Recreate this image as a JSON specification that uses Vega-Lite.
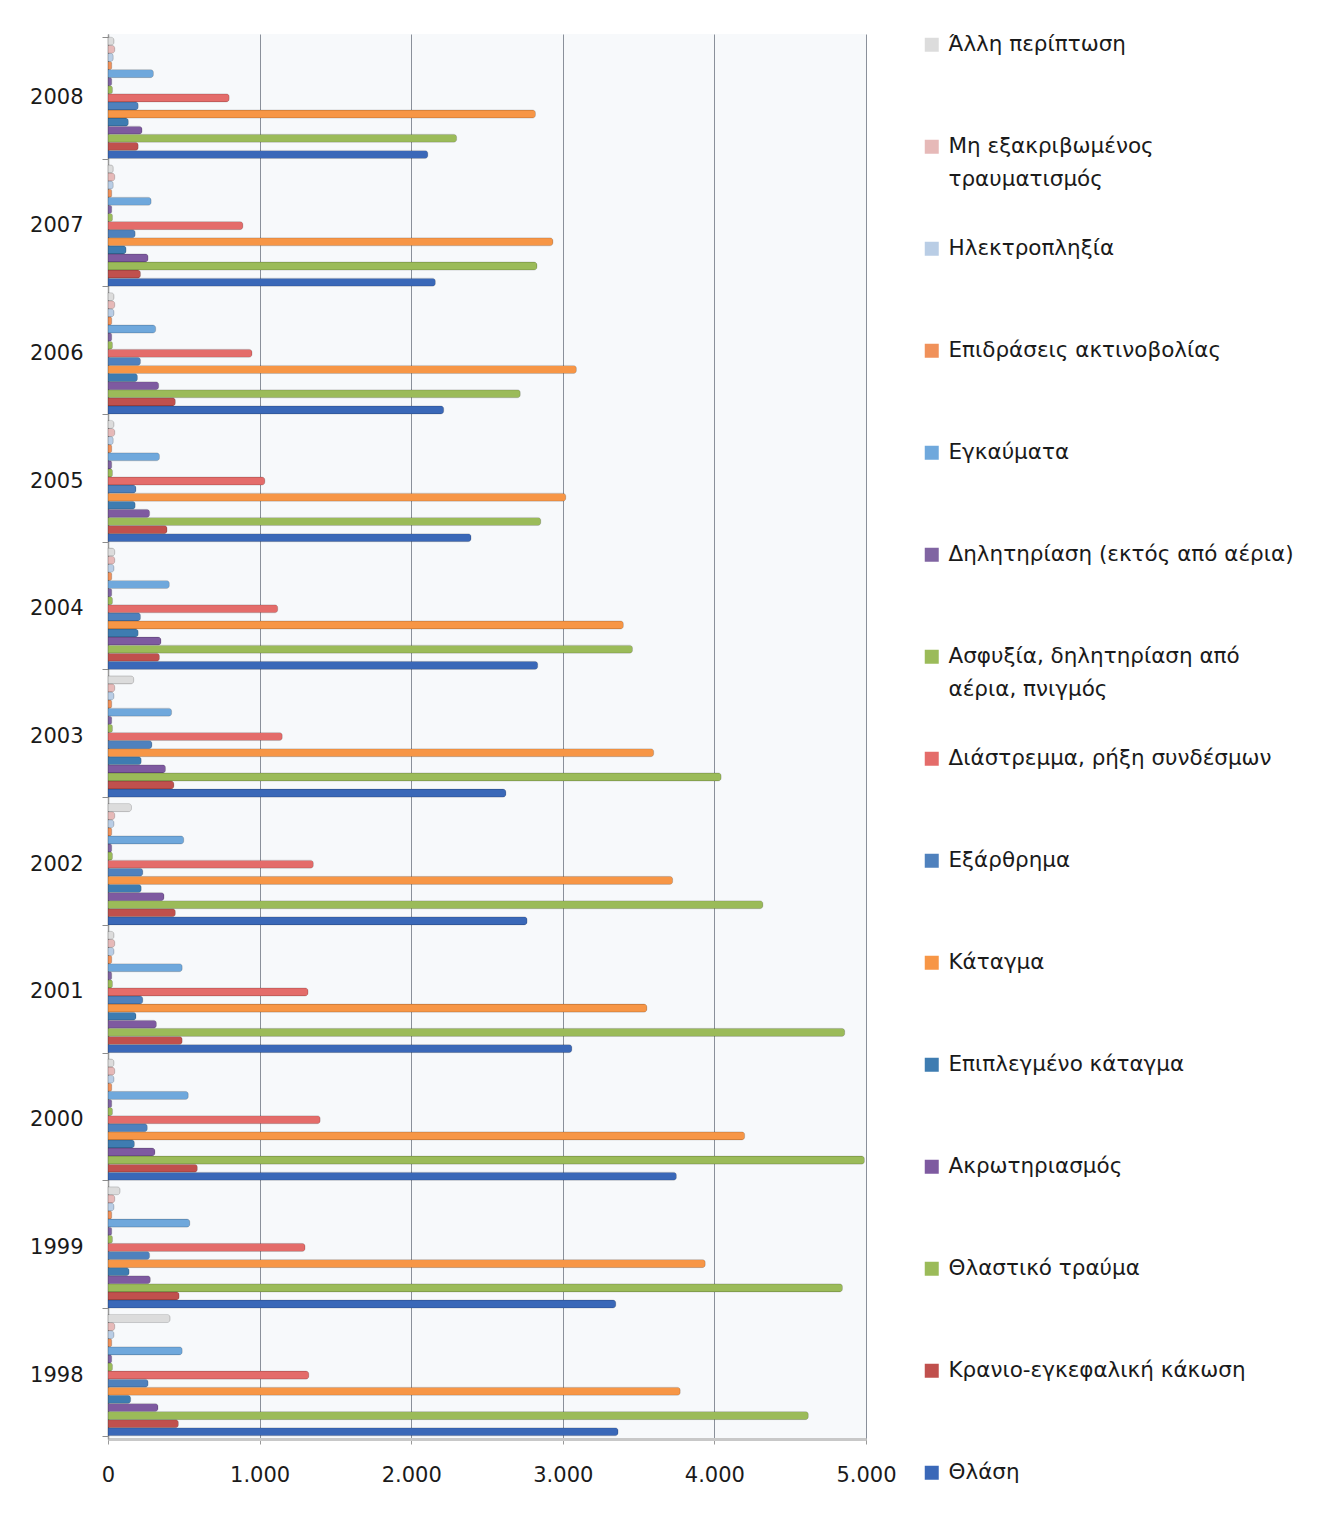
{
  "$schema": "https://vega.github.io/schema/vega-lite/v6.json",
  "autosize": {"type": "none"},
  "padding": {"left": 108, "top": 34, "right": 457, "bottom": 98},
  "width": 758,
  "height": 1405,
  "background": "#ffffff",
  "data": {
    "values": [
      {"year": "2008", "type": "Άλλη περίπτωση", "value": 40},
      {"year": "2008", "type": "Μη εξακριβωμένος τραυματισμός", "value": 45},
      {"year": "2008", "type": "Ηλεκτροπληξία", "value": 35},
      {"year": "2008", "type": "Επιδράσεις ακτινοβολίας", "value": 25},
      {"year": "2008", "type": "Εγκαύματα", "value": 300},
      {"year": "2008", "type": "Δηλητηρίαση (εκτός από αέρια)", "value": 25},
      {"year": "2008", "type": "Ασφυξία, δηλητηρίαση από αέρια, πνιγμός", "value": 30},
      {"year": "2008", "type": "Διάστρεμμα, ρήξη συνδέσμων", "value": 800},
      {"year": "2008", "type": "Εξάρθρημα", "value": 200},
      {"year": "2008", "type": "Κάταγμα", "value": 2820},
      {"year": "2008", "type": "Επιπλεγμένο κάταγμα", "value": 135},
      {"year": "2008", "type": "Ακρωτηριασμός", "value": 225},
      {"year": "2008", "type": "Θλαστικό τραύμα", "value": 2300},
      {"year": "2008", "type": "Κρανιο-εγκεφαλική κάκωση", "value": 200},
      {"year": "2008", "type": "Θλάση", "value": 2110},

      {"year": "2007", "type": "Άλλη περίπτωση", "value": 35},
      {"year": "2007", "type": "Μη εξακριβωμένος τραυματισμός", "value": 45},
      {"year": "2007", "type": "Ηλεκτροπληξία", "value": 35},
      {"year": "2007", "type": "Επιδράσεις ακτινοβολίας", "value": 25},
      {"year": "2007", "type": "Εγκαύματα", "value": 285},
      {"year": "2007", "type": "Δηλητηρίαση (εκτός από αέρια)", "value": 25},
      {"year": "2007", "type": "Ασφυξία, δηλητηρίαση από αέρια, πνιγμός", "value": 30},
      {"year": "2007", "type": "Διάστρεμμα, ρήξη συνδέσμων", "value": 890},
      {"year": "2007", "type": "Εξάρθρημα", "value": 180},
      {"year": "2007", "type": "Κάταγμα", "value": 2935},
      {"year": "2007", "type": "Επιπλεγμένο κάταγμα", "value": 120},
      {"year": "2007", "type": "Ακρωτηριασμός", "value": 265},
      {"year": "2007", "type": "Θλαστικό τραύμα", "value": 2830},
      {"year": "2007", "type": "Κρανιο-εγκεφαλική κάκωση", "value": 215},
      {"year": "2007", "type": "Θλάση", "value": 2160},

      {"year": "2006", "type": "Άλλη περίπτωση", "value": 40},
      {"year": "2006", "type": "Μη εξακριβωμένος τραυματισμός", "value": 45},
      {"year": "2006", "type": "Ηλεκτροπληξία", "value": 40},
      {"year": "2006", "type": "Επιδράσεις ακτινοβολίας", "value": 25},
      {"year": "2006", "type": "Εγκαύματα", "value": 315},
      {"year": "2006", "type": "Δηλητηρίαση (εκτός από αέρια)", "value": 25},
      {"year": "2006", "type": "Ασφυξία, δηλητηρίαση από αέρια, πνιγμός", "value": 30},
      {"year": "2006", "type": "Διάστρεμμα, ρήξη συνδέσμων", "value": 950},
      {"year": "2006", "type": "Εξάρθρημα", "value": 215},
      {"year": "2006", "type": "Κάταγμα", "value": 3090},
      {"year": "2006", "type": "Επιπλεγμένο κάταγμα", "value": 195},
      {"year": "2006", "type": "Ακρωτηριασμός", "value": 335},
      {"year": "2006", "type": "Θλαστικό τραύμα", "value": 2720},
      {"year": "2006", "type": "Κρανιο-εγκεφαλική κάκωση", "value": 445},
      {"year": "2006", "type": "Θλάση", "value": 2215},

      {"year": "2005", "type": "Άλλη περίπτωση", "value": 40},
      {"year": "2005", "type": "Μη εξακριβωμένος τραυματισμός", "value": 45},
      {"year": "2005", "type": "Ηλεκτροπληξία", "value": 35},
      {"year": "2005", "type": "Επιδράσεις ακτινοβολίας", "value": 25},
      {"year": "2005", "type": "Εγκαύματα", "value": 340},
      {"year": "2005", "type": "Δηλητηρίαση (εκτός από αέρια)", "value": 25},
      {"year": "2005", "type": "Ασφυξία, δηλητηρίαση από αέρια, πνιγμός", "value": 30},
      {"year": "2005", "type": "Διάστρεμμα, ρήξη συνδέσμων", "value": 1035},
      {"year": "2005", "type": "Εξάρθρημα", "value": 185},
      {"year": "2005", "type": "Κάταγμα", "value": 3020},
      {"year": "2005", "type": "Επιπλεγμένο κάταγμα", "value": 180},
      {"year": "2005", "type": "Ακρωτηριασμός", "value": 275},
      {"year": "2005", "type": "Θλαστικό τραύμα", "value": 2855},
      {"year": "2005", "type": "Κρανιο-εγκεφαλική κάκωση", "value": 390},
      {"year": "2005", "type": "Θλάση", "value": 2395},

      {"year": "2004", "type": "Άλλη περίπτωση", "value": 45},
      {"year": "2004", "type": "Μη εξακριβωμένος τραυματισμός", "value": 45},
      {"year": "2004", "type": "Ηλεκτροπληξία", "value": 40},
      {"year": "2004", "type": "Επιδράσεις ακτινοβολίας", "value": 25},
      {"year": "2004", "type": "Εγκαύματα", "value": 405},
      {"year": "2004", "type": "Δηλητηρίαση (εκτός από αέρια)", "value": 25},
      {"year": "2004", "type": "Ασφυξία, δηλητηρίαση από αέρια, πνιγμός", "value": 30},
      {"year": "2004", "type": "Διάστρεμμα, ρήξη συνδέσμων", "value": 1120},
      {"year": "2004", "type": "Εξάρθρημα", "value": 215},
      {"year": "2004", "type": "Κάταγμα", "value": 3400},
      {"year": "2004", "type": "Επιπλεγμένο κάταγμα", "value": 200},
      {"year": "2004", "type": "Ακρωτηριασμός", "value": 350},
      {"year": "2004", "type": "Θλαστικό τραύμα", "value": 3460},
      {"year": "2004", "type": "Κρανιο-εγκεφαλική κάκωση", "value": 340},
      {"year": "2004", "type": "Θλάση", "value": 2835},

      {"year": "2003", "type": "Άλλη περίπτωση", "value": 170},
      {"year": "2003", "type": "Μη εξακριβωμένος τραυματισμός", "value": 45},
      {"year": "2003", "type": "Ηλεκτροπληξία", "value": 40},
      {"year": "2003", "type": "Επιδράσεις ακτινοβολίας", "value": 25},
      {"year": "2003", "type": "Εγκαύματα", "value": 420},
      {"year": "2003", "type": "Δηλητηρίαση (εκτός από αέρια)", "value": 25},
      {"year": "2003", "type": "Ασφυξία, δηλητηρίαση από αέρια, πνιγμός", "value": 30},
      {"year": "2003", "type": "Διάστρεμμα, ρήξη συνδέσμων", "value": 1150},
      {"year": "2003", "type": "Εξάρθρημα", "value": 290},
      {"year": "2003", "type": "Κάταγμα", "value": 3600},
      {"year": "2003", "type": "Επιπλεγμένο κάταγμα", "value": 220},
      {"year": "2003", "type": "Ακρωτηριασμός", "value": 380},
      {"year": "2003", "type": "Θλαστικό τραύμα", "value": 4045},
      {"year": "2003", "type": "Κρανιο-εγκεφαλική κάκωση", "value": 435},
      {"year": "2003", "type": "Θλάση", "value": 2625},

      {"year": "2002", "type": "Άλλη περίπτωση", "value": 155},
      {"year": "2002", "type": "Μη εξακριβωμένος τραυματισμός", "value": 45},
      {"year": "2002", "type": "Ηλεκτροπληξία", "value": 40},
      {"year": "2002", "type": "Επιδράσεις ακτινοβολίας", "value": 25},
      {"year": "2002", "type": "Εγκαύματα", "value": 500},
      {"year": "2002", "type": "Δηλητηρίαση (εκτός από αέρια)", "value": 25},
      {"year": "2002", "type": "Ασφυξία, δηλητηρίαση από αέρια, πνιγμός", "value": 30},
      {"year": "2002", "type": "Διάστρεμμα, ρήξη συνδέσμων", "value": 1355},
      {"year": "2002", "type": "Εξάρθρημα", "value": 230},
      {"year": "2002", "type": "Κάταγμα", "value": 3725},
      {"year": "2002", "type": "Επιπλεγμένο κάταγμα", "value": 220},
      {"year": "2002", "type": "Ακρωτηριασμός", "value": 370},
      {"year": "2002", "type": "Θλαστικό τραύμα", "value": 4320},
      {"year": "2002", "type": "Κρανιο-εγκεφαλική κάκωση", "value": 445},
      {"year": "2002", "type": "Θλάση", "value": 2765},

      {"year": "2001", "type": "Άλλη περίπτωση", "value": 40},
      {"year": "2001", "type": "Μη εξακριβωμένος τραυματισμός", "value": 45},
      {"year": "2001", "type": "Ηλεκτροπληξία", "value": 40},
      {"year": "2001", "type": "Επιδράσεις ακτινοβολίας", "value": 25},
      {"year": "2001", "type": "Εγκαύματα", "value": 490},
      {"year": "2001", "type": "Δηλητηρίαση (εκτός από αέρια)", "value": 25},
      {"year": "2001", "type": "Ασφυξία, δηλητηρίαση από αέρια, πνιγμός", "value": 30},
      {"year": "2001", "type": "Διάστρεμμα, ρήξη συνδέσμων", "value": 1320},
      {"year": "2001", "type": "Εξάρθρημα", "value": 230},
      {"year": "2001", "type": "Κάταγμα", "value": 3555},
      {"year": "2001", "type": "Επιπλεγμένο κάταγμα", "value": 185},
      {"year": "2001", "type": "Ακρωτηριασμός", "value": 320},
      {"year": "2001", "type": "Θλαστικό τραύμα", "value": 4860},
      {"year": "2001", "type": "Κρανιο-εγκεφαλική κάκωση", "value": 490},
      {"year": "2001", "type": "Θλάση", "value": 3060},

      {"year": "2000", "type": "Άλλη περίπτωση", "value": 40},
      {"year": "2000", "type": "Μη εξακριβωμένος τραυματισμός", "value": 45},
      {"year": "2000", "type": "Ηλεκτροπληξία", "value": 40},
      {"year": "2000", "type": "Επιδράσεις ακτινοβολίας", "value": 25},
      {"year": "2000", "type": "Εγκαύματα", "value": 530},
      {"year": "2000", "type": "Δηλητηρίαση (εκτός από αέρια)", "value": 25},
      {"year": "2000", "type": "Ασφυξία, δηλητηρίαση από αέρια, πνιγμός", "value": 30},
      {"year": "2000", "type": "Διάστρεμμα, ρήξη συνδέσμων", "value": 1400},
      {"year": "2000", "type": "Εξάρθρημα", "value": 260},
      {"year": "2000", "type": "Κάταγμα", "value": 4200},
      {"year": "2000", "type": "Επιπλεγμένο κάταγμα", "value": 175},
      {"year": "2000", "type": "Ακρωτηριασμός", "value": 310},
      {"year": "2000", "type": "Θλαστικό τραύμα", "value": 4990},
      {"year": "2000", "type": "Κρανιο-εγκεφαλική κάκωση", "value": 590},
      {"year": "2000", "type": "Θλάση", "value": 3750},

      {"year": "1999", "type": "Άλλη περίπτωση", "value": 80},
      {"year": "1999", "type": "Μη εξακριβωμένος τραυματισμός", "value": 45},
      {"year": "1999", "type": "Ηλεκτροπληξία", "value": 40},
      {"year": "1999", "type": "Επιδράσεις ακτινοβολίας", "value": 25},
      {"year": "1999", "type": "Εγκαύματα", "value": 540},
      {"year": "1999", "type": "Δηλητηρίαση (εκτός από αέρια)", "value": 25},
      {"year": "1999", "type": "Ασφυξία, δηλητηρίαση από αέρια, πνιγμός", "value": 30},
      {"year": "1999", "type": "Διάστρεμμα, ρήξη συνδέσμων", "value": 1300},
      {"year": "1999", "type": "Εξάρθρημα", "value": 275},
      {"year": "1999", "type": "Κάταγμα", "value": 3940},
      {"year": "1999", "type": "Επιπλεγμένο κάταγμα", "value": 140},
      {"year": "1999", "type": "Ακρωτηριασμός", "value": 280},
      {"year": "1999", "type": "Θλαστικό τραύμα", "value": 4845},
      {"year": "1999", "type": "Κρανιο-εγκεφαλική κάκωση", "value": 470},
      {"year": "1999", "type": "Θλάση", "value": 3350},

      {"year": "1998", "type": "Άλλη περίπτωση", "value": 410},
      {"year": "1998", "type": "Μη εξακριβωμένος τραυματισμός", "value": 45},
      {"year": "1998", "type": "Ηλεκτροπληξία", "value": 40},
      {"year": "1998", "type": "Επιδράσεις ακτινοβολίας", "value": 25},
      {"year": "1998", "type": "Εγκαύματα", "value": 490},
      {"year": "1998", "type": "Δηλητηρίαση (εκτός από αέρια)", "value": 25},
      {"year": "1998", "type": "Ασφυξία, δηλητηρίαση από αέρια, πνιγμός", "value": 30},
      {"year": "1998", "type": "Διάστρεμμα, ρήξη συνδέσμων", "value": 1325},
      {"year": "1998", "type": "Εξάρθρημα", "value": 265},
      {"year": "1998", "type": "Κάταγμα", "value": 3775},
      {"year": "1998", "type": "Επιπλεγμένο κάταγμα", "value": 150},
      {"year": "1998", "type": "Ακρωτηριασμός", "value": 330},
      {"year": "1998", "type": "Θλαστικό τραύμα", "value": 4620},
      {"year": "1998", "type": "Κρανιο-εγκεφαλική κάκωση", "value": 465},
      {"year": "1998", "type": "Θλάση", "value": 3365}
    ]
  },
  "mark": {"type": "bar", "cornerRadiusEnd": 3, "stroke": "#000000", "strokeOpacity": 0.22, "strokeWidth": 0.6},
  "encoding": {
    "y": {
      "field": "year",
      "type": "ordinal",
      "sort": "descending",
      "title": null,
      "scale": {"paddingInner": 0.05, "paddingOuter": 0.025},
      "axis": {
        "labelFont": "DejaVu Sans",
        "labelFontSize": 21,
        "labelColor": "#1a1a1a",
        "labelPadding": 19,
        "tickBand": "extent",
        "tickSize": 6,
        "tickColor": "#8c8c8c",
        "domainColor": "#9a9a9a",
        "domainWidth": 1.5
      }
    },
    "yOffset": {
      "field": "type",
      "type": "nominal",
      "scale": {
        "domain": [
          "Άλλη περίπτωση",
          "Μη εξακριβωμένος τραυματισμός",
          "Ηλεκτροπληξία",
          "Επιδράσεις ακτινοβολίας",
          "Εγκαύματα",
          "Δηλητηρίαση (εκτός από αέρια)",
          "Ασφυξία, δηλητηρίαση από αέρια, πνιγμός",
          "Διάστρεμμα, ρήξη συνδέσμων",
          "Εξάρθρημα",
          "Κάταγμα",
          "Επιπλεγμένο κάταγμα",
          "Ακρωτηριασμός",
          "Θλαστικό τραύμα",
          "Κρανιο-εγκεφαλική κάκωση",
          "Θλάση"
        ],
        "paddingInner": 0
      }
    },
    "x": {
      "field": "value",
      "type": "quantitative",
      "title": null,
      "scale": {"domain": [0, 5000], "nice": false},
      "axis": {
        "values": [0, 1000, 2000, 3000, 4000, 5000],
        "labelExpr": "replace(format(datum.value, ','), ',', '.')",
        "labelFont": "DejaVu Sans",
        "labelFontSize": 21,
        "labelColor": "#1a1a1a",
        "labelPadding": 20,
        "tickSize": 5,
        "tickColor": "#9a9a9a",
        "domainColor": "#c8c8c8",
        "domainWidth": 3,
        "grid": true,
        "gridColor": "#8a909a",
        "gridWidth": 1,
        "labelFlush": false
      }
    },
    "color": {
      "field": "type",
      "type": "nominal",
      "scale": {
        "domain": [
          "Άλλη περίπτωση",
          "Μη εξακριβωμένος τραυματισμός",
          "Ηλεκτροπληξία",
          "Επιδράσεις ακτινοβολίας",
          "Εγκαύματα",
          "Δηλητηρίαση (εκτός από αέρια)",
          "Ασφυξία, δηλητηρίαση από αέρια, πνιγμός",
          "Διάστρεμμα, ρήξη συνδέσμων",
          "Εξάρθρημα",
          "Κάταγμα",
          "Επιπλεγμένο κάταγμα",
          "Ακρωτηριασμός",
          "Θλαστικό τραύμα",
          "Κρανιο-εγκεφαλική κάκωση",
          "Θλάση"
        ],
        "range": [
          "#dcdcdc",
          "#e6b9b8",
          "#b9cde5",
          "#f0915a",
          "#6fa8dc",
          "#8064a2",
          "#9bbb59",
          "#e46c6a",
          "#4f81bd",
          "#f79646",
          "#3e7cb1",
          "#7e5aa0",
          "#9bbb59",
          "#c0504d",
          "#3a68b8"
        ]
      },
      "legend": {
        "title": null,
        "orient": "right",
        "offset": 55,
        "padding": 0,
        "symbolType": "square",
        "symbolSize": 196,
        "symbolStrokeWidth": 0,
        "labelFont": "DejaVu Sans",
        "labelFontSize": 21.5,
        "labelColor": "#1a1a1a",
        "labelOffset": 6,
        "labelLimit": 420,
        "labelBaseline": "middle",
        "gridAlign": "all",
        "rowPadding": 46,
        "labelExpr": "datum.label == 'Μη εξακριβωμένος τραυματισμός' ? ['Μη εξακριβωμένος', 'τραυματισμός'] : datum.label == 'Ασφυξία, δηλητηρίαση από αέρια, πνιγμός' ? ['Ασφυξία, δηλητηρίαση από', 'αέρια, πνιγμός'] : datum.label"
      }
    }
  },
  "config": {
    "view": {"stroke": null, "fill": "#f7f9fb"},
    "style": {"guide-label": {"lineHeight": 33}}
  }
}
